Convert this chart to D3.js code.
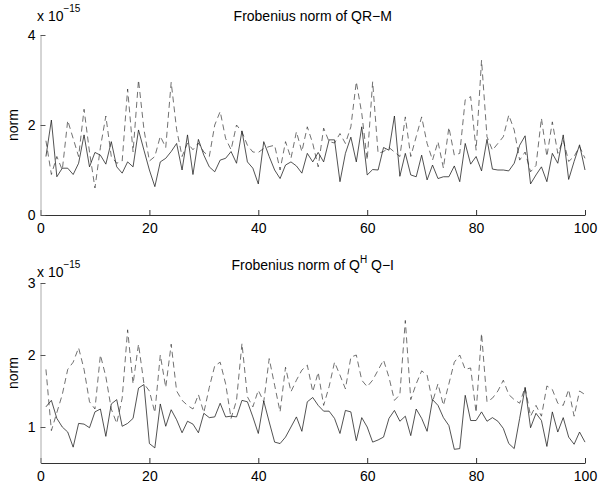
<!DOCTYPE html>
<html><head><meta charset="utf-8">
<script src="https://cdn.jsdelivr.net/npm/d3@7"></script>
<style>
body{margin:0;background:#fff;}
svg{font-family:"Liberation Sans",Arial,sans-serif;}
</style></head><body>
<svg id="c" width="600" height="489"></svg>
<script>
const idx = d3.range(1,101);
const xTicks = [0,20,40,60,80,100];
const topYTicks = [0,2,4];
const botYTicks = [1,2,3];
const topTitle = "Frobenius norm of QR\u2212M";
const yLabel = "norm";
const qrSolid = [1.3,2.11,0.85,1.04,1.04,0.90,1.15,1.78,1.07,1.39,1.33,1.13,1.63,1.07,0.93,1.18,1.07,1.89,1.44,1.0,
0.63,1.18,1.26,1.41,1.59,1.0,1.78,0.90,1.68,1.33,1.07,0.96,1.22,1.26,1.41,1.15,1.87,1.18,1.04,0.69,
1.63,1.30,1.0,0.81,1.11,1.18,1.09,0.93,1.37,1.18,1.39,1.18,1.67,1.67,0.74,1.37,1.73,1.18,1.96,0.89,
1.01,1.0,1.50,1.44,2.2,0.86,1.37,0.89,0.85,1.33,0.78,1.11,0.81,0.85,0.85,1.09,0.74,1.59,1.13,1.30,
0.98,1.68,1.02,1.0,1.0,0.98,1.15,1.55,1.76,0.69,0.89,1.07,0.74,1.37,1.15,1.78,0.79,1.19,1.56,1.0];
const qrDashed = [1.65,0.9,1.3,1.0,2.1,1.7,1.3,2.35,1.4,0.6,1.5,2.2,1.3,1.15,1.2,2.8,1.4,3.0,1.9,1.2,
1.3,1.75,1.5,2.95,1.9,1.3,1.6,1.45,1.6,1.4,1.3,2.0,2.3,1.7,1.45,2.0,1.85,1.55,1.4,1.39,
1.48,1.52,1.55,1.0,1.63,1.26,1.85,1.41,1.96,1.59,1.07,1.93,1.63,1.6,1.81,1.59,1.96,2.96,2.26,1.22,
2.96,1.37,1.41,1.5,1.4,1.3,2.18,1.3,1.74,2.18,1.59,1.22,1.63,1.04,1.95,1.33,1.37,2.56,2.63,1.44,
3.44,1.74,1.44,1.59,1.74,2.22,1.89,1.22,1.4,0.96,1.1,2.15,1.3,2.07,1.37,1.67,1.19,1.3,1.52,1.26];
const qhSolid = [1.28,1.37,1.12,1.0,0.93,0.72,1.05,1.04,0.99,1.21,1.25,0.87,1.32,1.38,1.01,1.05,1.12,1.54,1.59,0.77,
0.71,1.32,1.01,1.24,1.10,0.92,1.08,1.04,0.92,1.19,1.13,1.14,1.33,1.14,1.15,1.14,1.37,1.35,1.14,0.91,
1.36,1.07,0.79,0.77,0.86,1.0,1.14,0.94,1.35,1.41,1.30,1.22,1.22,1.12,0.91,1.23,1.21,0.81,1.13,1.0,
0.79,0.82,0.86,1.12,1.23,1.08,1.15,0.88,1.25,1.12,0.94,1.38,1.30,1.13,1.02,0.69,0.70,1.44,1.09,1.09,
1.21,1.08,1.13,1.08,0.98,0.77,0.70,1.12,1.55,0.99,1.19,1.09,0.73,1.21,0.93,1.13,0.86,0.76,0.93,0.79];
const qhDashed = [1.8,0.95,1.2,1.45,1.8,1.9,2.1,1.8,1.35,1.25,2.0,1.7,1.25,1.05,1.4,2.35,1.6,2.15,1.6,1.5,
1.2,2.0,1.55,2.15,1.5,1.37,1.3,1.25,1.45,1.2,1.55,1.85,1.9,1.6,1.12,1.37,2.16,1.42,1.28,1.51,
1.35,1.95,1.58,1.21,1.83,1.49,1.65,1.79,1.86,1.49,1.76,1.30,1.56,1.90,1.72,1.53,1.97,2.0,1.65,1.56,
1.65,1.79,1.93,1.69,1.37,1.45,2.48,1.38,1.6,1.78,1.72,1.35,1.6,1.3,1.6,1.9,2.0,1.8,1.82,1.2,
2.3,1.35,1.4,1.5,1.65,1.45,1.38,1.33,1.55,1.15,1.3,1.15,1.57,1.52,1.33,1.3,1.52,1.15,1.5,1.45];

const svg = d3.select("#c");
const x = d3.scaleLinear().domain([0,100]).range([40.5,585]);

function panel(yDomain, yRange, yTicks, solid, dashed, titleY, expY, titleFn){
  const y = d3.scaleLinear().domain(yDomain).range(yRange);
  const g = svg.append("g");
  const line = d3.line().x((d,i)=>x(idx[i])).y(d=>y(d));
  g.append("path").datum(dashed).attr("d",line).attr("fill","none")
    .attr("stroke","#333").attr("stroke-width",0.7).attr("stroke-dasharray","6,4");
  g.append("path").datum(solid).attr("d",line).attr("fill","none")
    .attr("stroke","#1a1a1a").attr("stroke-width",0.75);
  const xa = g.append("g").attr("transform",`translate(0,${yRange[0]})`)
    .call(d3.axisBottom(x).tickValues(xTicks).tickFormat(d3.format("d")).tickSize(-5).tickSizeOuter(0).tickPadding(8));
  xa.select(".domain").attr("stroke","#333");
  xa.selectAll("text").attr("font-size",14).attr("fill","#000").attr("font-family","Liberation Sans, Arial");
  xa.selectAll(".tick line").attr("stroke","#333");
  const ya = g.append("g").attr("transform",`translate(40.5,0)`)
    .call(d3.axisLeft(y).tickValues(yTicks).tickFormat(d3.format("d")).tickSize(-5).tickSizeOuter(0).tickPadding(5));
  ya.select(".domain").attr("stroke","#aaa");
  ya.selectAll("text").attr("font-size",14).attr("fill","#000").attr("font-family","Liberation Sans, Arial");
  ya.selectAll(".tick line").attr("stroke","#555");
  const cy = (yRange[0]+yRange[1])/2;
  g.append("text").attr("transform",`translate(18,${cy}) rotate(-90)`)
    .attr("text-anchor","middle").attr("font-size",14).text(yLabel);
  const e = g.append("text").attr("x",37).attr("y",expY).attr("font-size",14);
  e.append("tspan").text("x 10");
  e.append("tspan").attr("font-size",10).attr("dy",-9).text("\u221215");
  const t = g.append("text").attr("x",(40.5+585)/2).attr("y",titleY).attr("text-anchor","middle").attr("font-size",14);
  titleFn(t);
}
panel([0,4],[215,35],topYTicks,qrSolid,qrDashed,21,21,t=>t.text(topTitle));
panel([0.5,3],[463,283],botYTicks,qhSolid,qhDashed,270,277,t=>{
  t.append("tspan").text("Frobenius norm of Q");
  t.append("tspan").attr("font-size",10).attr("dy",-7).text("H");
  t.append("tspan").attr("dy",7).text(" Q\u2212I");
});
</script></body></html>
